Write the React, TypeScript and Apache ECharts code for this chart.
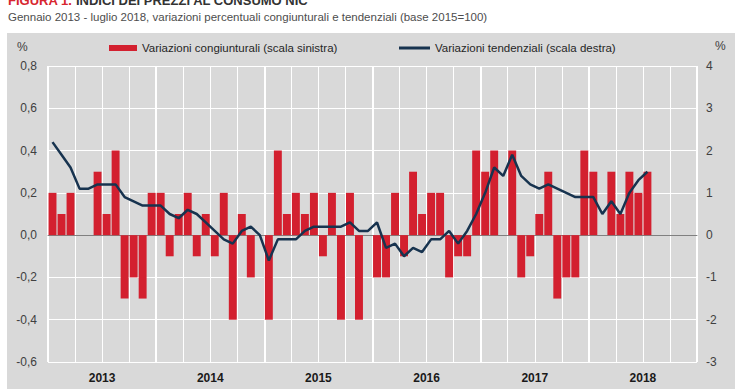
import React, { useEffect, useRef } from "react";
import * as echarts from "echarts";

const years = ["2013", "2014", "2015", "2016", "2017", "2018"];
const monthsPerYear = 12;

// Variazioni congiunturali (%), gennaio 2013 - luglio 2018
const congiunturali = [
  0.2, 0.1, 0.2, 0.0, 0.0, 0.3, 0.1, 0.4, -0.3, -0.2, -0.3, 0.2,
  0.2, -0.1, 0.1, 0.2, -0.1, 0.1, -0.1, 0.2, -0.4, 0.1, -0.2, 0.0,
  -0.4, 0.4, 0.1, 0.2, 0.1, 0.2, -0.1, 0.2, -0.4, 0.2, -0.4, 0.0,
  -0.2, -0.2, 0.2, -0.1, 0.3, 0.1, 0.2, 0.2, -0.2, -0.1, -0.1, 0.4,
  0.3, 0.4, 0.0, 0.4, -0.2, -0.1, 0.1, 0.3, -0.3, -0.2, -0.2, 0.4,
  0.3, 0.0, 0.3, 0.1, 0.3, 0.2, 0.3,
];

// Variazioni tendenziali (%), gennaio 2013 - luglio 2018
const tendenziali = [
  2.2, 1.9, 1.6, 1.1, 1.1, 1.2, 1.2, 1.2, 0.9, 0.8, 0.7, 0.7,
  0.7, 0.5, 0.4, 0.6, 0.5, 0.3, 0.1, -0.1, -0.2, 0.1, 0.2, 0.0,
  -0.6, -0.1, -0.1, -0.1, 0.1, 0.2, 0.2, 0.2, 0.2, 0.3, 0.1, 0.1,
  0.3, -0.3, -0.2, -0.5, -0.3, -0.4, -0.1, -0.1, 0.1, -0.2, 0.1, 0.5,
  1.0, 1.6, 1.4, 1.9, 1.4, 1.2, 1.1, 1.2, 1.1, 1.0, 0.9, 0.9,
  0.9, 0.5, 0.8, 0.5, 1.0, 1.3, 1.5,
];

const barName = "Variazioni congiunturali (scala sinistra)";
const lineName = "Variazioni tendenziali (scala destra)";
const titleRed = "FIGURA 1.";
const titleDark = "INDICI DEI PREZZI AL CONSUMO NIC";
const subtitle =
  "Gennaio 2013 - luglio 2018, variazioni percentuali congiunturali e tendenziali (base 2015=100)";

const FONT = '"Liberation Sans", Arial, sans-serif';
const BAR_COLOR = "#d3202f";
const LINE_COLOR = "#17334f";

export default function App() {
  const ref = useRef<HTMLDivElement>(null);

  useEffect(() => {
    if (!ref.current) return;
    const chart = echarts.init(ref.current, null, { renderer: "svg" });

    const months: string[] = [];
    years.forEach((y) => {
      for (let m = 1; m <= monthsPerYear; m++) months.push(`${y}-${m}`);
    });

    const option: any = {
      animation: false,
      textStyle: { fontFamily: FONT },
      grid: { left: 48, right: 43, top: 66, bottom: 27, containLabel: false },
      graphic: [
        {
          type: "rect",
          z: -100,
          silent: true,
          shape: { x: 7, y: 33, width: 728, height: 360 },
          style: { fill: "#d9d9d9" },
        },
        {
          type: "text",
          x: 8,
          y: 0.5,
          style: {
            text: `{r|${titleRed}} {k|${titleDark}}`,
            verticalAlign: "middle",
            rich: {
              r: { fill: "#d7262f", font: `bold 13px ${FONT}` },
              k: { fill: "#333333", font: `bold 13px ${FONT}` },
            },
            font: `bold 13px ${FONT}`,
          },
        },
        {
          type: "text",
          x: 8,
          y: 16.5,
          style: {
            text: subtitle,
            fill: "#4d4d4d",
            font: `11.5px ${FONT}`,
            verticalAlign: "middle",
          },
        },
        {
          type: "text",
          x: 17,
          y: 46.5,
          style: { text: "%", fill: "#404040", font: `12px ${FONT}`, verticalAlign: "middle" },
        },
        {
          type: "text",
          x: 715,
          y: 46,
          style: { text: "%", fill: "#404040", font: `12px ${FONT}`, verticalAlign: "middle" },
        },
      ],
      legend: [
        {
          data: [barName],
          left: 109,
          top: 42,
          padding: 0,
          itemWidth: 28,
          itemHeight: 6,
          icon: "rect",
          textStyle: { fontSize: 11.5, color: "#262626", fontFamily: FONT },
        },
        {
          data: [{ name: lineName, icon: "rect", itemStyle: { color: LINE_COLOR } }],
          left: 399,
          top: 42,
          padding: 0,
          itemWidth: 31,
          itemHeight: 3,
          textStyle: { fontSize: 11.5, color: "#262626", fontFamily: FONT },
        },
      ],
      xAxis: [
        {
          type: "category",
          data: months,
          boundaryGap: true,
          position: "bottom",
          axisTick: { show: false },
          axisLabel: { show: false },
          axisLine: { show: true, onZero: true, lineStyle: { color: "#808080", width: 1 } },
          splitLine: {
            show: true,
            interval: (i: number) => i % 3 === 0,
            lineStyle: { color: "#ffffff", width: 1 },
          },
        },
        {
          type: "category",
          data: years,
          boundaryGap: true,
          position: "bottom",
          axisTick: { show: false },
          axisLine: { show: false, onZero: false },
          axisLabel: {
            margin: 10,
            color: "#1a1a1a",
            fontWeight: "bold",
            fontSize: 12,
            fontFamily: FONT,
          },
          splitLine: { show: true, lineStyle: { color: "#ffffff", width: 2 } },
        },
      ],
      yAxis: [
        {
          type: "value",
          min: -0.6,
          max: 0.8,
          interval: 0.2,
          position: "left",
          axisLine: { show: false },
          axisTick: { show: false },
          axisLabel: {
            margin: 11,
            color: "#404040",
            fontSize: 12,
            fontFamily: FONT,
            formatter: (v: number) =>
              Math.abs(v) < 1e-9 ? "0,0" : v.toFixed(1).replace(".", ","),
          },
          splitLine: { show: true, lineStyle: { color: "#ffffff", width: 1 } },
        },
        {
          type: "value",
          min: -3,
          max: 4,
          interval: 1,
          position: "right",
          axisLine: { show: false },
          axisTick: { show: false },
          axisLabel: { margin: 9, color: "#404040", fontSize: 12, fontFamily: FONT },
          splitLine: { show: false },
        },
      ],
      series: [
        {
          name: barName,
          type: "bar",
          xAxisIndex: 0,
          yAxisIndex: 0,
          data: congiunturali,
          barCategoryGap: "12%",
          itemStyle: { color: BAR_COLOR },
        },
        {
          name: lineName,
          type: "line",
          xAxisIndex: 0,
          yAxisIndex: 1,
          data: tendenziali,
          symbol: "none",
          showSymbol: false,
          lineStyle: { color: LINE_COLOR, width: 2.5 },
          itemStyle: { color: LINE_COLOR },
          z: 3,
        },
      ],
    };

    chart.setOption(option);
    return () => chart.dispose();
  }, []);

  return (
    <div
      ref={ref}
      style={{ position: "fixed", left: 0, top: 0, width: 740, height: 389, background: "#ffffff" }}
    />
  );
}
